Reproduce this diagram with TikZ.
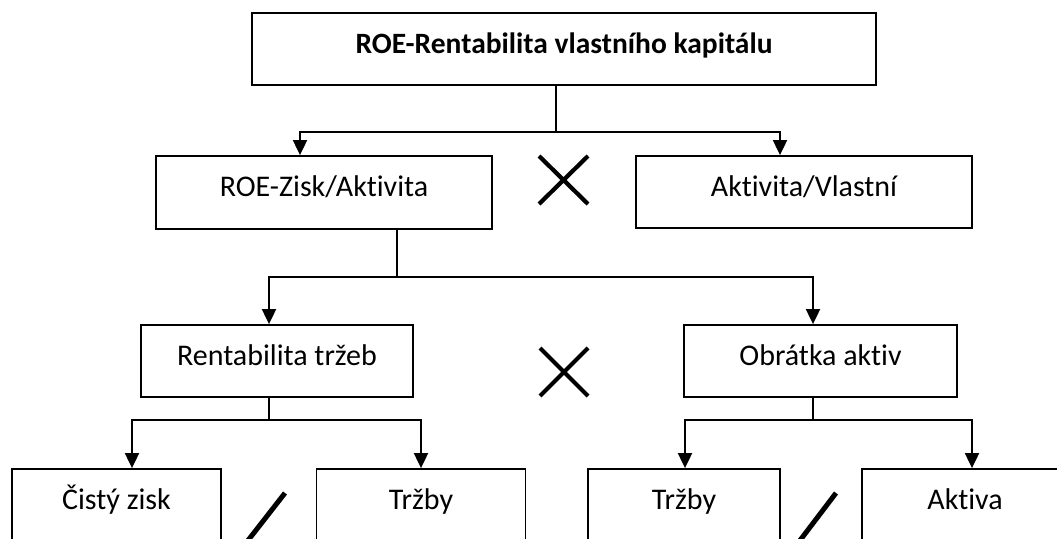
\documentclass[tikz,border=0pt]{standalone}
\usepackage{fontspec}
\setmainfont{Carlito}[Ligatures=NoCommon]
\usetikzlibrary{arrows.meta}
\tikzset{
  box/.style={draw=black, line width=1.8pt, rectangle, inner sep=0pt,
    text height=21pt, text depth=13pt, align=center,
    font=\fontsize{30}{36}\selectfont},
  conn/.style={draw=black, line width=1.9pt},
  arr/.style={conn, -{Triangle[length=15pt,width=14pt]}},
  opmark/.style={draw=black, line width=4.2pt},
  slashmark/.style={draw=black, line width=5pt}
}
\begin{document}
\begin{tikzpicture}[x=1pt,y=-1pt]
\useasboundingbox (0,0) rectangle (1057,538);
% boxes
\node[box, minimum width=624pt, minimum height=72pt, font=\fontsize{29.5}{36}\selectfont\bfseries] (top) at (564,49) {ROE-Rentabilita vlastního kapitálu};
\node[box, minimum width=336pt, minimum height=73pt] (b1) at (324,192.5) {ROE-Zisk/Aktivita};
\node[box, minimum width=336pt, minimum height=72pt] (b2) at (804,192) {Aktivita/Vlastní};
\node[box, minimum width=272pt, minimum height=72pt] (c1) at (277,361) {Rentabilita tržeb};
\node[box, minimum width=273pt, minimum height=72pt] (c2) at (820.5,361) {Obrátka aktiv};
\node[box, minimum width=209pt, minimum height=73pt] (d1) at (116.5,505.5) {Čistý zisk};
\node[box, minimum width=209pt, minimum height=73pt] (d2) at (421,505.5) {Tržby};
\node[box, minimum width=192pt, minimum height=73pt] (d3) at (684,505.5) {Tržby};
\node[box, minimum width=206pt, minimum height=73pt] (d4) at (965,505.5) {Aktiva};
% junctions
\coordinate (j1) at (556,132);
\coordinate (j2) at (397,277);
\coordinate (j3) at (269,420);
\coordinate (j4) at (813,420);
% connectors
\draw[conn] (j1 |- top.south) -- (j1);
\draw[arr] (j1) -| ([xshift=-24pt]b1.north);
\draw[arr] (j1) -| ([xshift=-24pt]b2.north);
\draw[conn] (j2 |- b1.south) -- (j2);
\draw[arr] (j2) -| ([xshift=-8pt]c1.north);
\draw[arr] (j2) -| ([xshift=-7.5pt]c2.north);
\draw[conn] (j3 |- c1.south) -- (j3);
\draw[arr] (j3) -| ([xshift=15.5pt]d1.north);
\draw[arr] (j3) -| (d2.north);
\draw[conn] (j4 |- c2.south) -- (j4);
\draw[arr] (j4) -| ([xshift=1pt]d3.north);
\draw[arr] (j4) -| ([xshift=7pt]d4.north);
% multiplication marks
\draw[opmark] (539,156) -- (588,204) (588,156) -- (539,204);
\draw[opmark] (540,348) -- (588,396) (588,348) -- (540,396);
% division marks
\draw[slashmark] (246,543) -- (285,493);
\draw[slashmark] (798,543) -- (836,493);
\end{tikzpicture}
\end{document}
